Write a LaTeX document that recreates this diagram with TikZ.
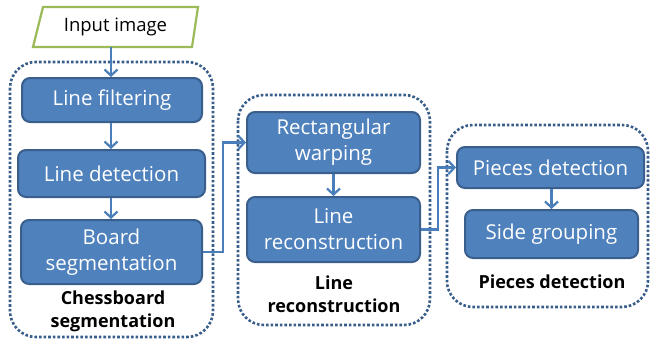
\documentclass[tikz,border=0pt]{standalone}
\usepackage{fontspec}
\setmainfont{Open Sans}
\usetikzlibrary{arrows.meta,shapes.geometric}
\definecolor{boxfill}{HTML}{4F81BD}
\definecolor{boxedge}{HTML}{3A5F8C}
\definecolor{lnk}{HTML}{4A7EBB}
\definecolor{frm}{HTML}{385D8A}
\definecolor{grn}{HTML}{9BBB59}
\tikzset{
  stepbox/.style={draw=boxedge, line width=2pt, fill=boxfill, rounded corners=8pt, text=white, font=\fontsize{20.5}{26}\selectfont, align=center, inner sep=0pt},
  grp/.style={draw=frm, line width=2.6pt, dotted, rounded corners=26pt},
  grplabel/.style={font=\bfseries\fontsize{18}{23}\selectfont, align=center, text=black},
  lk/.style={draw=lnk, line width=2.4pt, -{Straight Barb[length=6pt,width=13pt,line width=2.2pt]}},
}
\begin{document}
\begin{tikzpicture}[x=1pt,y=-1pt]
\useasboundingbox (0,0) rectangle (650,340);
% frames
\draw[grp] (10,62) rectangle (213,337);
\draw[grp] (238,95) rectangle (430,325);
\draw[grp] (447,125) rectangle (648,307);
% input
\draw[grn, line width=2.2pt, fill=white] (43,7) -- (198,7) -- (192,47) -- (33,47) -- cycle;
\node[font=\fontsize{18.5}{22}\selectfont] (in) at (115.5,27) {Input image};
\coordinate (inb) at (111,47);
% boxes
\node[stepbox, minimum width=180pt, minimum height=44pt] (lf) at (112,100) {Line filtering};
\node[stepbox, minimum width=187pt, minimum height=47pt] (ld) at (111.5,173.5) {Line detection};
\node[stepbox, minimum width=181pt, minimum height=64pt] (bs) at (111.5,252) {Board\\segmentation};
\node[stepbox, minimum width=173pt, minimum height=61pt] (rw) at (333.5,142.5) {Rectangular\\warping};
\node[stepbox, minimum width=173pt, minimum height=65pt] (lr) at (333.5,229.5) {Line\\reconstruction};
\node[stepbox, minimum width=187pt, minimum height=41pt] (pd) at (550.5,167.5) {Pieces detection};
\node[stepbox, minimum width=173pt, minimum height=48pt] (sg) at (551.5,234) {Side grouping};
% labels
\node[grplabel] (l1) at (113,311.5) {Chessboard\\segmentation};
\node[grplabel] (l2) at (334,294.5) {Line\\reconstruction};
\node[grplabel] (l3) at (552,282) {Pieces detection};
% links
\draw[lk] (inb) -- (inb |- lf.north);
\draw[lk] (lf.south -| 111,0) -- (ld.north -| 111,0);
\draw[lk] (ld.south -| 111,0) -- (bs.north -| 111,0);
\draw[lk] (rw.south) -- (lr.north);
\draw[lk] (pd.south -| sg.north) -- (sg.north);
\draw[lk] (bs.east) -- (223,252) -- (223,142.5) -- (rw.west);
\draw[lk] (lr.east) -- (438,229.5) -- (438,167.5) -- (pd.west);
\end{tikzpicture}
\end{document}
